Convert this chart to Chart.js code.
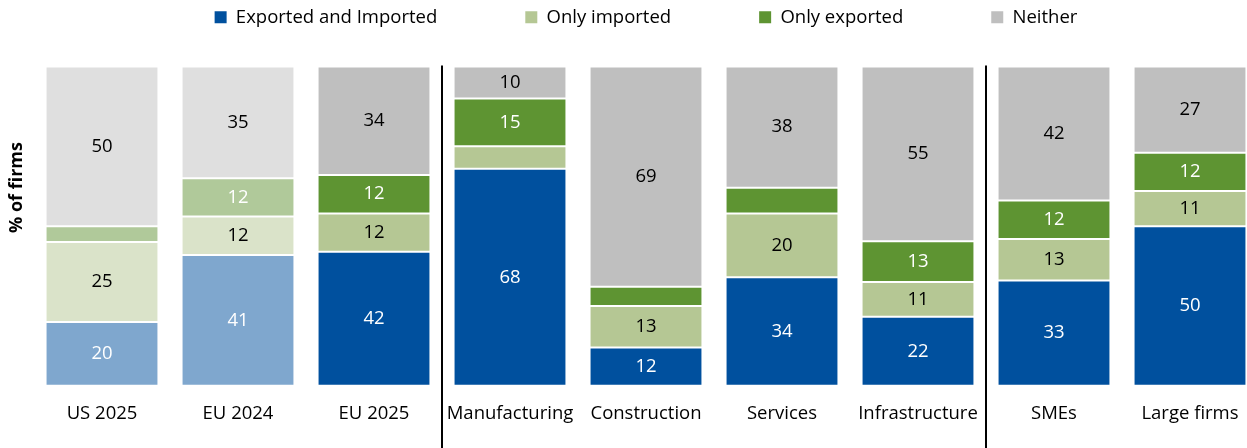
<!DOCTYPE html>
<html>
<head>
<meta charset="utf-8">
<script src="https://cdn.jsdelivr.net/npm/chart.js@4"></script>
<style>
  html, body { margin: 0; padding: 0; background: #fff; overflow: hidden; }
  #wrap { position: absolute; left: 0; top: -80px; width: 1258px; height: 528px; }
</style>
</head>
<body>
<div id="wrap"><canvas id="chart"></canvas></div>
<script>
const labels = ["US 2025", "EU 2024", "EU 2025", "Manufacturing", "Construction", "Services", "Infrastructure", "SMEs", "Large firms"];
const seriesNames = ["Exported and Imported", "Only imported", "Only exported", "Neither"];
const exportedAndImported = [20, 41, 42, 68, 12, 34, 21.6, 33, 50];
const onlyImported = [25, 12, 12, 7, 13, 20, 10.9, 13, 11];
const onlyExported = [5, 12, 12, 15, 6, 8, 12.8, 12, 12];
const neither = [50, 35, 34, 10, 69, 38, 54.7, 42, 27];

// first two bars (US 2025, EU 2024) use the faded palette
const strongColors = ["#00509E", "#B5C794", "#5E9432", "#BFBFBF"];
const lightColors = ["#7FA7CE", "#DAE3C9", "#B0C99A", "#DFDFDF"];
const labelColors = ["#fff", "#000", "#fff", "#000"];
const fontFamily = '"Open Sans", sans-serif';
const fontSize = 18.5;

const seriesData = [exportedAndImported, onlyImported, onlyExported, neither];

const datasets = seriesData.map((vals, i) => ({
  label: seriesNames[i],
  data: vals,
  backgroundColor: labels.map((l, j) => (j < 2 ? lightColors[i] : strongColors[i])),
  borderColor: "#fff",
  borderWidth: 1,
  borderSkipped: false,
  barPercentage: 0.83,
  categoryPercentage: 1,
}));

const segmentLabels = {
  id: "segmentLabels",
  afterDatasetsDraw(chart) {
    const c = chart.ctx;
    c.save();
    c.font = fontSize + "px " + fontFamily;
    c.textAlign = "center";
    c.textBaseline = "middle";
    chart.data.datasets.forEach((ds, i) => {
      chart.getDatasetMeta(i).data.forEach((bar, j) => {
        const v = ds.data[j];
        if (v < 9.5) return;
        c.fillStyle = labelColors[i];
        c.fillText(Math.round(v), bar.x, (bar.y + bar.base) / 2);
      });
    });
    c.restore();
  },
};

const extras = {
  id: "extras",
  beforeInit(chart) {
    // push the plot down below the legend
    const fit = chart.legend.fit;
    chart.legend.fit = function () {
      fit.bind(chart.legend)();
      this.height += 30;
    };
  },
  afterDraw(chart) {
    const c = chart.ctx;
    const x = chart.scales.x;
    const area = chart.chartArea;
    c.save();
    c.strokeStyle = "#000";
    c.lineWidth = 2;
    [2, 6].forEach((i) => {
      const px = Math.round((x.getPixelForValue(i) + x.getPixelForValue(i + 1)) / 2);
      c.beginPath();
      c.moveTo(px, area.top - 1);
      c.lineTo(px, chart.height);
      c.stroke();
    });
    c.translate(17, area.top + 121);
    c.rotate(-Math.PI / 2);
    c.font = "bold 18px " + fontFamily;
    c.fillStyle = "#000";
    c.textAlign = "center";
    c.textBaseline = "middle";
    c.fillText("% of firms", 0, 0);
    c.restore();
  },
};

const config = {
  type: "bar",
  data: { labels: labels, datasets: datasets },
  options: {
    responsive: true,
    maintainAspectRatio: false,
    animation: false,
    layout: { padding: { left: 34, right: 0, top: 0, bottom: 14 } },
    plugins: {
      tooltip: { enabled: false },
      legend: {
        position: "top",
        labels: {
          boxWidth: 12,
          boxHeight: 12,
          padding: 88,
          color: "#000",
          font: { family: fontFamily, size: fontSize },
          generateLabels: (chart) =>
            chart.data.datasets.map((ds, i) => ({
              text: ds.label,
              fillStyle: strongColors[i],
              strokeStyle: strongColors[i],
              lineWidth: 0,
              hidden: false,
              datasetIndex: i,
              fontColor: "#000",
            })),
        },
      },
    },
    scales: {
      x: {
        stacked: true,
        grid: { display: false },
        border: { display: false },
        ticks: {
          padding: 9,
          color: "#000",
          font: { family: fontFamily, size: fontSize },
          maxRotation: 0,
          autoSkip: false,
        },
      },
      y: {
        stacked: true,
        display: false,
        min: 0,
        max: 100,
      },
    },
  },
  plugins: [segmentLabels, extras],
};

const chart = new Chart(document.getElementById("chart"), config);
</script>
</body>
</html>
